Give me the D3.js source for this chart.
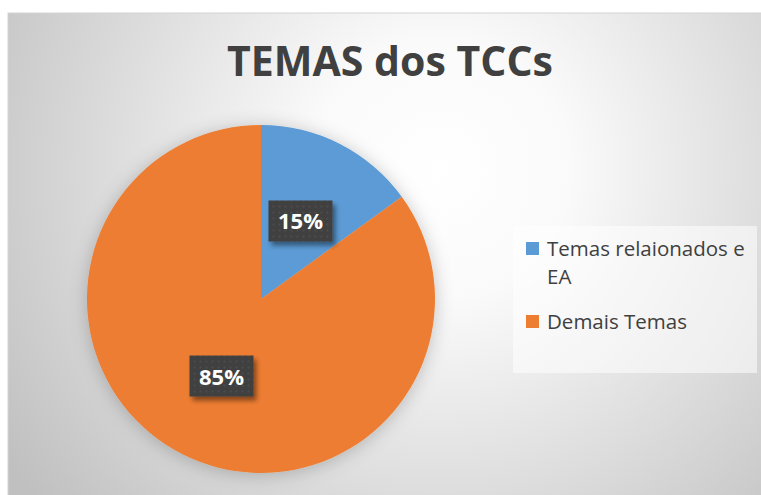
<!DOCTYPE html>
<html>
<head>
<meta charset="utf-8">
<script src="https://cdn.jsdelivr.net/npm/d3@7"></script>
<style>
  body { margin: 0; background: #fff; }
  svg { display: block; }
</style>
</head>
<body>
<svg></svg>
<script>
var WIDTH = 761;
var HEIGHT = 495;

// dados do grafico
var categories = ['Temas relaionados e EA', 'Demais Temas'];
var legendLines = [['Temas relaionados e', 'EA'], ['Demais Temas']];
var values = [15, 85];
var colors = ['#5B9BD5', '#ED7D31'];
var title = 'TEMAS dos TCCs';

var svg = d3.select('svg')
    .attr('width', WIDTH)
    .attr('height', HEIGHT);

var defs = svg.append('defs');

var bg = defs.append('radialGradient')
    .attr('id', 'bg')
    .attr('gradientUnits', 'userSpaceOnUse')
    .attr('cx', 440).attr('cy', 170).attr('r', 520);
bg.append('stop').attr('offset', '0').attr('stop-color', '#ffffff');
bg.append('stop').attr('offset', '0.25').attr('stop-color', '#fafafa');
bg.append('stop').attr('offset', '1').attr('stop-color', '#c0c0c0');

var pieShadow = defs.append('filter').attr('id', 'pieShadow')
    .attr('x', '-20%').attr('y', '-20%').attr('width', '140%').attr('height', '140%');
pieShadow.append('feDropShadow')
    .attr('dx', 0).attr('dy', 2).attr('stdDeviation', 9)
    .attr('flood-color', '#000').attr('flood-opacity', 0.22);

var boxShadow = defs.append('filter').attr('id', 'boxShadow')
    .attr('x', '-30%').attr('y', '-30%').attr('width', '160%').attr('height', '160%');
boxShadow.append('feDropShadow')
    .attr('dx', 3).attr('dy', 4).attr('stdDeviation', 2.5)
    .attr('flood-color', '#000').attr('flood-opacity', 0.45);

var dots = defs.append('pattern').attr('id', 'dots')
    .attr('patternUnits', 'userSpaceOnUse')
    .attr('width', 6).attr('height', 6);
dots.append('rect').attr('width', 6).attr('height', 6).attr('fill', '#404040');
dots.append('circle').attr('cx', 3).attr('cy', 3).attr('r', 1.1).attr('fill', '#4e4e4e');

// fundo
svg.append('rect')
    .attr('x', 8).attr('y', 13)
    .attr('width', WIDTH).attr('height', HEIGHT)
    .attr('fill', 'url(#bg)')
    .attr('stroke', '#d4d4d4');

// titulo
svg.append('text')
    .attr('x', 390).attr('y', 76)
    .attr('text-anchor', 'middle')
    .attr('font-family', 'Open Sans, sans-serif')
    .attr('font-weight', 'bold')
    .attr('font-size', 41)
    .attr('fill', '#404040')
    .attr('textLength', 326)
    .attr('lengthAdjust', 'spacingAndGlyphs')
    .text(title);

// pizza
var cx = 261, cy = 299, R = 174;
var pie = d3.pie().sort(null).value(function(d){ return d; });
var arcs = pie(values);
var arc = d3.arc().innerRadius(0).outerRadius(R);
var labelArc = d3.arc().innerRadius(R * 0.5).outerRadius(R * 0.5);

var g = svg.append('g').attr('transform', 'translate(' + cx + ',' + cy + ')');
g.append('g').attr('filter', 'url(#pieShadow)')
    .selectAll('path')
    .data(arcs)
    .enter()
    .append('path')
    .attr('d', arc)
    .attr('fill', function(d, i){ return colors[i]; });

var total = d3.sum(values);
var labels = g.selectAll('.lbl')
    .data(arcs)
    .enter()
    .append('g')
    .attr('class', 'lbl')
    .attr('transform', function(d){
        var c = labelArc.centroid(d);
        return 'translate(' + c[0] + ',' + c[1] + ')';
    });
labels.append('rect')
    .attr('x', -32).attr('y', -21)
    .attr('width', 64).attr('height', 41)
    .attr('fill', 'url(#dots)')
    .attr('filter', 'url(#boxShadow)');
labels.append('text')
    .attr('text-anchor', 'middle')
    .attr('y', 8)
    .attr('font-family', 'Open Sans, sans-serif')
    .attr('font-weight', 'bold')
    .attr('font-size', 22)
    .attr('fill', '#ffffff')
    .text(function(d){ return Math.round(d.data / total * 100) + '%'; });

// legenda
var leg = svg.append('g');
leg.append('rect')
    .attr('x', 513).attr('y', 226)
    .attr('width', 244).attr('height', 147)
    .attr('fill', '#ffffff').attr('fill-opacity', 0.55);

var rowY = [256, 329];
var items = leg.selectAll('.item')
    .data(categories)
    .enter()
    .append('g')
    .attr('class', 'item');
items.append('rect')
    .attr('x', 526)
    .attr('y', function(d, i){ return rowY[i] - 14; })
    .attr('width', 13).attr('height', 13)
    .attr('fill', function(d, i){ return colors[i]; });
items.append('text')
    .attr('font-family', 'Open Sans, sans-serif')
    .attr('font-size', 20.5)
    .attr('fill', '#404040')
    .selectAll('tspan')
    .data(function(d, i){ return legendLines[i].map(function(t){ return {t: t, i: i}; }); })
    .enter()
    .append('tspan')
    .attr('x', 547)
    .attr('y', function(d, j){ return rowY[d.i] + j * 28; })
    .text(function(d){ return d.t; });
</script>
</body>
</html>
